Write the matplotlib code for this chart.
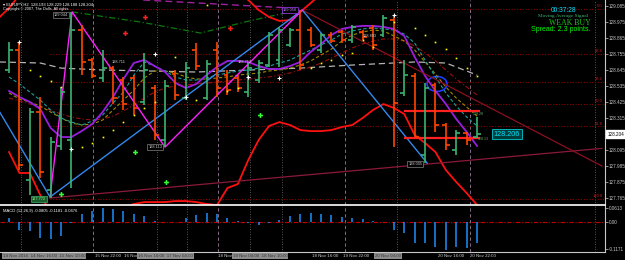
import matplotlib
matplotlib.use("Agg")
import matplotlib.pyplot as plt
import matplotlib.transforms as mtransforms
from matplotlib.patches import Ellipse

plt.rcParams['font.family'] = ['Liberation Sans', 'DejaVu Sans']

# ---------------- data: EURJPY H2, one entry per bar ----------------
bar_open = [128.645, 128.782, 127.889, 128.356, 127.819, 128.122, 128.164, 128.920, 128.713, 128.590,
            128.658, 128.576, 128.590, 128.425, 128.521, 128.164, 128.617, 128.452, 128.782, 128.452,
            128.782, 128.610, 128.590, 128.493, 128.576, 128.679, 128.713, 128.817, 128.920, 128.920,
            128.782, 128.885, 128.906, 128.851, 128.906, 128.933, 128.885, 128.988, 128.487, 128.603,
            128.060, 128.542, 128.267, 128.095, 128.212, 128.184]
bar_high = [128.837, 128.837, 128.384, 128.459, 128.184, 128.528, 129.044, 128.954, 128.727, 128.782,
            128.672, 128.597, 128.610, 128.762, 128.542, 128.576, 128.645, 128.700, 128.830, 128.713,
            128.837, 128.645, 128.610, 128.693, 128.713, 128.906, 128.940, 128.933, 129.057, 128.940,
            128.899, 128.906, 128.920, 128.954, 128.920, 128.954, 129.023, 129.023, 128.713, 128.624,
            128.555, 128.555, 128.280, 128.232, 128.219, 128.322]
bar_low = [128.624, 127.957, 127.785, 127.902, 127.765, 128.095, 127.833, 128.610, 128.590, 128.562,
           128.411, 128.370, 128.335, 128.404, 128.164, 128.115, 128.438, 128.438, 128.645, 128.438,
           128.459, 128.473, 128.493, 128.459, 128.555, 128.665, 128.665, 128.803, 128.645, 128.803,
           128.762, 128.830, 128.830, 128.830, 128.851, 128.782, 128.872, 128.115, 128.466, 128.184,
           128.005, 128.219, 128.095, 128.060, 128.129, 128.177]
bar_close = [128.782, 127.992, 128.356, 127.944, 128.150, 128.493, 128.920, 128.700, 128.603, 128.658,
             128.452, 128.411, 128.384, 128.645, 128.198, 128.535, 128.473, 128.658, 128.672, 128.686,
             128.521, 128.507, 128.521, 128.658, 128.693, 128.885, 128.920, 128.920, 128.679, 128.817,
             128.885, 128.844, 128.851, 128.940, 128.872, 128.817, 129.002, 128.418, 128.610, 128.184,
             128.521, 128.267, 128.129, 128.212, 128.164, 128.204]

ma_purple = [128.501, 128.459, 128.425, 128.377, 128.246, 128.184, 128.184, 128.226, 128.274, 128.356,
             128.459, 128.583, 128.693, 128.714, 128.672, 128.631, 128.556, 128.521, 128.549, 128.611,
             128.666, 128.707, 128.707, 128.700, 128.672, 128.652, 128.652, 128.672, 128.700, 128.769,
             128.824, 128.886, 128.927, 128.941, 128.948, 128.948, 128.941, 128.927, 128.879, 128.734,
             128.604, 128.501, 128.411, 128.308, 128.219, 128.123]
ma_teal = [128.597, 128.549, 128.493, 128.438, 128.370, 128.315, 128.287, 128.267, 128.294, 128.335,
           128.418, 128.493, 128.610, 128.700, 128.672, 128.638, 128.597, 128.576, 128.576, 128.590,
           128.610, 128.624, 128.638, 128.645, 128.658, 128.672, 128.693, 128.713, 128.748, 128.782,
           128.817, 128.851, 128.892, 128.913, 128.927, 128.934, 128.927, 128.920, 128.892, 128.830,
           128.713, 128.597, 128.487, 128.397, 128.322, 128.260]
ma_olive = [128.487, 128.445, 128.425, 128.397, 128.356, 128.315, 128.280, 128.267, 128.273, 128.301,
            128.370, 128.438, 128.507, 128.590, 128.638, 128.638, 128.624, 128.597, 128.583, 128.583,
            128.590, 128.597, 128.610, 128.617, 128.624, 128.638, 128.645, 128.658, 128.679, 128.707,
            128.748, 128.789, 128.844, 128.885, 128.906, 128.920, 128.913, 128.879, 128.844, 128.782,
            128.700, 128.617, 128.528, 128.452, 128.390, 128.328]
ma_darkred = [128.452, 128.432, 128.411, 128.390, 128.370, 128.342, 128.322, 128.308, 128.301, 128.308,
              128.328, 128.363, 128.404, 128.452, 128.493, 128.521, 128.535, 128.542, 128.549, 128.555,
              128.562, 128.569, 128.576, 128.583, 128.590, 128.597, 128.610, 128.624, 128.645, 128.665,
              128.693, 128.727, 128.762, 128.796, 128.824, 128.844, 128.858, 128.858, 128.844, 128.810,
              128.762, 128.707, 128.645, 128.583, 128.528, 128.473]
band_lower = [128.081, 127.937, 127.937, 127.785, 127.668, 127.613, 127.586, 127.600, 127.613, 127.627,
              127.662, 127.696, 127.724, 127.737, 127.737, 127.737, 127.744, 127.744, 127.737, 127.724,
              127.717, 127.834, 127.861, 128.026, 128.164, 128.260, 128.287, 128.267, 128.232, 128.225,
              128.225, 128.232, 128.253, 128.267, 128.315, 128.370, 128.411, 128.384, 128.342, 128.198,
              128.143, 128.081, 127.957, 127.875, 127.799, 127.717]
band_upper_a_idx = [-1, 0, 1]
band_upper_a = [129.002, 129.071, 129.160]
band_upper_b_idx = [22, 23, 24, 25, 26, 27, 28, 29, 30]
band_upper_b = [129.167, 129.126, 129.057, 129.009, 128.982, 128.988, 129.044, 129.105, 129.167]

ma_gray_idx = [-0.9, 3, 5, 9, 18, 28, 33, 39, 42, 45]
ma_gray = [128.700, 128.693, 128.658, 128.645, 128.631, 128.658, 128.679, 128.700, 128.693, 128.610]

green_line_idx = [6.06, 12.6, 18.4, 22.7, 27.0]
green_line = [129.044, 128.975, 128.899, 128.975, 129.044]

zigzag_magenta_idx = [3.94, 6.06, 15.0, 28.2]
zigzag_magenta = [127.772, 129.044, 128.115, 129.057]
zigzag_blue_idx = [-0.9, 3.94, 28.2, 40.2]
zigzag_blue = [128.356, 127.772, 129.057, 128.005]

trend_up_idx = [3.94, 57.0]
trend_up = [127.765, 128.106]
trend_down_idx = [28.2, 57.0]
trend_down = [129.057, 127.985]
top_dash_idx = [12.9, 27.0]
top_dash = [129.126, 129.071]

signal_idx = [38.0, 45.3]
signal_levels = [128.363, 128.177]

sar_idx = [2, 3, 4, 5, 7, 8, 9, 10, 11, 12, 13, 14, 16, 18, 19, 21, 22, 29, 30, 31, 32, 33, 34, 35,
           37, 39, 40, 41, 42, 43, 44, 45]
sar = [128.645, 128.603, 128.569, 128.528, 128.115, 128.143, 128.184, 128.232, 128.287, 128.335,
       128.384, 128.425, 128.734, 128.438, 129.092, 128.500, 128.521, 128.658, 128.693, 128.713,
       128.748, 128.762, 128.851, 128.803, 128.975, 128.934, 128.885, 128.837, 128.789, 128.727,
       128.658, 128.603]

fractal_idx = [1, 6, 14, 17, 23, 26, 37]
fractal = [128.837, 128.102, 128.755, 128.459, 128.597, 128.590, 129.023]
sell_idx = [11.15, 13.1, 21.25]
sell = [128.899, 129.009, 128.934]
buy_idx = [5.0, 12.1, 15.1, 24.1]
buy = [127.792, 128.081, 127.875, 128.336]

fib_pct = [0.0, 23.6, 38.2, 50.0, 61.8, 100.0]
fib_high = 129.064
fib_low = 127.758

macd_hist = [0.017, -0.034, -0.039, -0.069, -0.073, -0.060, -0.004, 0.034, 0.047, 0.060,
             0.056, 0.047, 0.034, 0.026, 0.005, 0.002, -0.002, 0.017, 0.030, 0.039,
             0.034, 0.017, 0.004, -0.003, -0.013, -0.004, 0.009, 0.026, 0.034, 0.039,
             0.034, 0.030, 0.021, 0.017, 0.013, 0.004, 0.001, -0.034, -0.047, -0.090,
             -0.090, -0.107, -0.120, -0.107, -0.112, -0.090]

price_ticks = [129.085, 128.975, 128.865, 128.755, 128.645, 128.535, 128.425, 128.315,
               128.095, 127.985, 127.875, 127.765]
macd_ticks = [0.0613, 0.0, -0.1171]
macd_tick_labels = ["0.0613", "0.00", "-0.1171"]

sep_dotted = [1.15, 14.2, 17.1, 23.2, 26.25, 37.3, 56.35]
sep_dashed = [8.1, 20.1, 32.3, 44.3]

time_plain_idx = [8.27, 11.06, 20.1, 29.1, 32.1, 41.25, 44.3]
time_plain = ["15 Nov 22:00", "16 Nov", "18 Nov", "18 Nov 16:00", "19 Nov 22:00", "20 Nov 16:00", "20 Nov 22:00"]
time_box_idx = [-0.58, 12.4, 21.5, 35.2]
time_box = ["14 Nov 2016  14 Nov 16:00  15 Nov 10:00", "16 Nov 10:00  17 Nov 04:00",
            "18 Nov 04:00  18 Nov 10:00", "20 Nov 04:00"]

GREEN = '#3cb371'
ORANGE = '#ff4500'

fig = plt.figure(figsize=(6.25, 2.6), dpi=100, facecolor='black')
ax = fig.add_axes([0, 55 / 260, 605 / 625, 205 / 260])
ax2 = fig.add_axes([0, 8 / 260, 605 / 625, 46 / 260])
for a in (ax, ax2):
    a.set_facecolor('black')
    a.set_xlim(-0.87, 57.3)
    a.spines['left'].set_visible(False)
    a.spines['top'].set_visible(False)
    a.spines['right'].set_color('#c8c8c8')
    a.spines['right'].set_linewidth(0.8)
    a.set_xticks([])
    a.yaxis.tick_right()
    a.tick_params(axis='y', colors='#c8c8c8', labelsize=3.3, length=2, width=0.5, pad=1)
    for x in sep_dotted:
        a.axvline(x, color='#6e6e6e', lw=0.6, ls=(0, (1, 2)))
    for x in sep_dashed:
        a.axvline(x, color='#9a7a9a', lw=0.6, ls=(0, (4, 3)))
ax.spines['bottom'].set_color('white')
ax.spines['bottom'].set_linewidth(1.2)
ax2.spines['bottom'].set_color('#c8c8c8')
ax2.spines['bottom'].set_linewidth(0.8)

ax.set_ylim(127.717, 129.126)
ax.set_yticks(price_ticks)
ax.set_yticklabels([f"{p:.3f}" for p in price_ticks])

# fibonacci levels
fib_levels = [fib_high - p / 100 * (fib_high - fib_low) for p in fib_pct]
ax.hlines(fib_levels, 3.94, 57.3, color='#8b0000', lw=0.8, ls=(0, (1, 1.5)))
for p, lv in zip(fib_pct, fib_levels):
    ax.text(57.1, lv + 0.006, f"{p:.1f}", color='#c02020', fontsize=3.0, ha='right', va='bottom')

# moving averages and bands
idx = list(range(len(bar_open)))
ax.plot(ma_gray_idx, ma_gray, color='#b4b4b4', lw=0.9, ls=(0, (5, 3)))
ax.plot(green_line_idx, green_line, color='#0a7a0a', lw=0.9, ls=(0, (5, 2, 1, 2)))
ax.plot(top_dash_idx, top_dash, color='#a020a0', lw=1.0, ls=(0, (5, 3)))
ax.plot(idx, ma_darkred, color='#9b1010', lw=0.8, ls=(0, (4, 2, 1, 2)))
ax.plot(idx, ma_olive, color='#9a8a00', lw=0.8, ls=(0, (3, 2)))
ax.plot(idx, ma_teal, color='#1aa0a0', lw=0.8, ls=(0, (3, 2)))
ax.plot(idx, ma_purple, color='#9a1ee0', lw=1.3)
ax.plot(idx, band_lower, color='#ff1010', lw=1.3)
ax.plot(band_upper_a_idx, band_upper_a, color='#ff1010', lw=1.3)
ax.plot(band_upper_b_idx, band_upper_b, color='#ff1010', lw=1.3)
ax.plot(trend_up_idx, trend_up, color='#8b1a3a', lw=0.9)
ax.plot(trend_down_idx, trend_down, color='#8b1020', lw=0.9)
ax.plot(zigzag_blue_idx, zigzag_blue, color='#3388ee', lw=1.0)
ax.plot(zigzag_magenta_idx, zigzag_magenta, color='#ff20ff', lw=1.0)
ax.hlines(signal_levels, signal_idx[0], signal_idx[1], color='#ff2020', lw=1.6)

# price bars
for i in idx:
    c = GREEN if bar_close[i] >= bar_open[i] else ORANGE
    ax.vlines(i, bar_low[i], bar_high[i], color=c, lw=1.2)
    ax.hlines(bar_open[i], i - 0.38, i, color=c, lw=1.2)
    ax.hlines(bar_close[i], i, i + 0.38, color=c, lw=1.2)

ax.plot(sar_idx, sar, ls='none', marker='s', ms=1.2, color='#ffff00', mew=0)
ax.plot(fractal_idx, fractal, ls='none', marker='+', ms=3, mew=0.8, color='white')
ax.plot(sell_idx, sell, ls='none', marker='P', ms=3.5, mew=0, color='#ff2020')
ax.plot(buy_idx, buy, ls='none', marker='P', ms=3.5, mew=0, color='#33ff33')
ax.add_patch(Ellipse((41.15, 128.549), 1.92, 0.103, fill=False, edgecolor='#1e3cff', lw=1.2))

# zigzag price labels
def tag(x, y, s, fc='black', ec='#808080', tc='#c8c8c8'):
    ax.text(x, y, s, fontsize=2.8, color=tc, va='center', ha='left',
            bbox=dict(boxstyle='square,pad=0.25', fc=fc, ec=ec, lw=0.5))

tag(4.3, 129.020, "129.044")
tag(26.3, 129.057, "129.058", ec='#a040ff', tc='#c080ff')
tag(13.4, 128.115, "128.113")
tag(2.2, 127.758, "127.772", fc='#1a5c2a', ec='#3cb371', tc='#90ee90')
tag(38.4, 127.999, "128.005")
for x, y, s in [(9.9, 128.70, "128.711"), (22.0, 128.70, "128.712"), (34.0, 128.88, "128.893")]:
    ax.text(x, y, s, fontsize=2.8, color='#d0d0d0', va='center')
ax.text(44.6, 128.342, "128.28", fontsize=2.6, color='#66aa66', va='center')
ax.text(45.1, 128.170, "128.13", fontsize=2.6, color='#66aa66', va='center')
ax.text(46.6, bar_close[-1], "128.206", fontsize=5.2, color='#00e5ff', va='center',
        bbox=dict(boxstyle='square,pad=0.2', fc='#003b3b', ec='#00c8d0', lw=0.6))

# current price on axis
bt = mtransforms.blended_transform_factory(ax.transAxes, ax.transData)
ax.text(1.004, bar_close[-1], f"{bar_close[-1]:.3f}", transform=bt, fontsize=3.3, color='black',
        va='center', ha='left', bbox=dict(boxstyle='square,pad=0.3', fc='white', ec='white'))

# header and info texts
ax.text(0.005, 0.990, "\u25be EURJPY,H2  128.193 128.229 128.188 128.204", transform=ax.transAxes,
        fontsize=3.0, color='white', va='top', ha='left')
ax.text(0.005, 0.968, "Copyright \u00a9 2007, The Dolls, All rights", transform=ax.transAxes,
        fontsize=2.8, color='white', va='top', ha='left')
ax.text(0.932, 0.951, "00:37:28", transform=ax.transAxes, fontsize=4.8, color='#00e5ff',
        ha='center', va='center')
ax.text(0.972, 0.922, "Moving Average Signal", transform=ax.transAxes, fontsize=3.8,
        color='#3cb371', family='Liberation Serif', ha='right', va='center')
ax.text(0.942, 0.888, "WEAK BUY", transform=ax.transAxes, fontsize=5.6, color='#20c020',
        family='Liberation Serif', ha='center', va='center')
ax.text(0.977, 0.854, "Spread: 2.3 points.", transform=ax.transAxes, fontsize=5.0,
        color='#00ff00', ha='right', va='center')

# MACD panel
ax2.set_ylim(-0.129, 0.069)
ax2.set_yticks(macd_ticks)
ax2.set_yticklabels(macd_tick_labels)
ax2.axhline(0, color='#c00000', lw=0.8, ls=(0, (4, 1.5, 1, 1.5)))
ax2.vlines(idx, 0, macd_hist, color='#1e90ff', lw=1.1)
ax2.text(0.005, 0.93, "MACD (12,26,9) -0.0805 -0.1181 -0.0476", transform=ax2.transAxes,
         fontsize=3.0, color='white', va='top', ha='left')

tb = mtransforms.blended_transform_factory(ax2.transData, ax2.transAxes)
for x, s in zip(time_plain_idx, time_plain):
    ax2.text(x, -0.09, s, transform=tb, fontsize=3.2, color='#d0d0d0', va='center', ha='left',
             clip_on=False)
for x, s in zip(time_box_idx, time_box):
    ax2.text(x, -0.09, s, transform=tb, fontsize=3.2, color='#3a3a3a', va='center', ha='left',
             clip_on=False, bbox=dict(boxstyle='square,pad=0.15', fc='#8c8c8c', ec='none'))

fig.savefig('out.png', dpi=100, facecolor='black')
